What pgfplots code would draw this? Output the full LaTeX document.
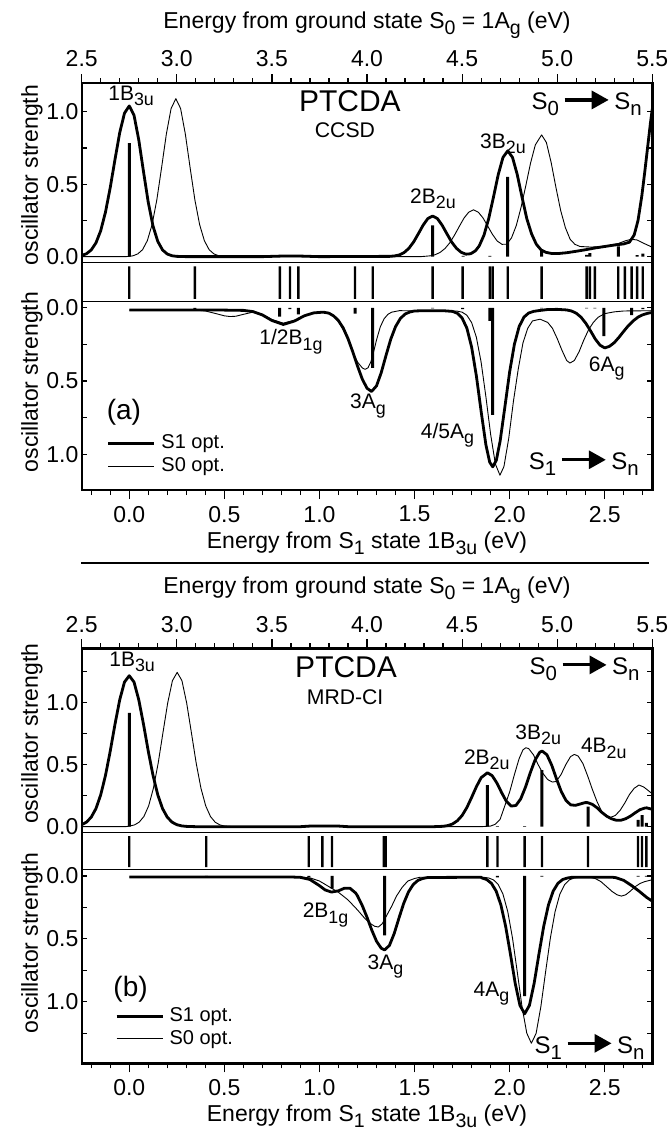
\documentclass[border=0pt]{standalone}
\usepackage{fontspec}
\setmainfont{Liberation Sans}
\usepackage{pgfplots}
\pgfplotsset{compat=1.18}
\usetikzlibrary{arrows.meta}
\newcommand\fs[1]{\fontsize{#1}{#1}\selectfont}
\newcommand\sbs[1]{\raisebox{-0.25em}{\scalebox{0.85}{#1}}}
\newcommand\arr{\raisebox{0.4pt}{\tikz\draw[line width=1.6pt,-{Triangle[length=8.5pt,width=9pt]}] (0,0)--(22pt,0);}}
\tikzset{lab/.style={font=\fs{10.5}}}
\pgfplotsset{
  pbase/.style={scale only axis, width=285.3pt, xmin=-0.25, xmax=2.75, anchor=north west,
    axis line style={line width=0.5pt}, tick style={black, line width=0.6pt},
    tick align=inside, major tick length=2.6pt, minor tick length=2.6pt,
    xtick=\empty, ticklabel style={font=\fs{11.5}}, yticklabel style={inner sep=1.5pt},
    ytick pos=both, yticklabel pos=left, ylabel style={font=\fs{11.5}},
    ytick={0,0.5,1}, yticklabels={0.0,0.5,1.0}},
  xbase/.style={scale only axis, width=285.3pt, xmin=-0.25, xmax=2.75, anchor=north west,
    ymin=0, ymax=1, axis line style={draw=none}, ytick=\empty,
    tick style={black, line width=0.6pt}, tick align=outside,
    major tick length=4.5pt, minor tick length=2.5pt,
    ticklabel style={font=\fs{11.5}}, xlabel style={font=\fs{11.5}}},
  topx/.style={xbase, xtick pos=right, xticklabel pos=right,
    xtick={-0.25,0.25,0.75,1.25,1.75,2.25,2.75},
    xticklabels={2.5,3.0,3.5,4.0,4.5,5.0,5.5},
    minor xtick={-0.15,-0.05,0.05,0.15,0.35,0.45,0.55,0.65,0.85,0.95,1.05,1.15,1.35,1.45,1.55,1.65,1.85,1.95,2.05,2.15,2.35,2.45,2.55,2.65},
    xlabel={Energy from ground state S\sbs{0} = 1A\sbs{g} (eV)},
    xlabel style={at={(axis description cs:0.5,1)}, anchor=center, yshift=29pt}},
  botx/.style={xbase, xtick pos=left, xticklabel pos=left,
    xtick={0,0.5,1,1.5,2,2.5}, xticklabels={0.0,0.5,1.0,1.5,2.0,2.5},
    minor xtick={-0.2,-0.1,0.1,0.2,0.3,0.4,0.6,0.7,0.8,0.9,1.1,1.2,1.3,1.4,1.6,1.7,1.8,1.9,2.1,2.2,2.3,2.4,2.6,2.7},
    xlabel={Energy from S\sbs{1} state 1B\sbs{3u} (eV)},
    xlabel style={at={(axis description cs:0.5,0)}, anchor=center, yshift=-26.5pt}},
  strip/.style={scale only axis, width=285.3pt, xmin=-0.25, xmax=2.75, anchor=north west,
    ymin=-0.06, ymax=1, xtick=\empty, ytick=\empty, axis line style={line width=0.5pt}},
  thickc/.style={black, line width=1.4pt, line join=round},
  thinc/.style={black, line width=0.45pt, line join=round},
  stick/.style={ybar, bar width=1.5pt, bar shift=0pt, fill=black, draw=none, forget plot},
  sstick/.style={ybar, bar width=1.2pt, bar shift=0pt, fill=black, draw=none, forget plot},
  leg/.style={legend style={draw=none, fill=none, inner sep=0pt, row sep=1.2pt,
    column sep=2pt, font=\fs{10}, nodes={inner sep=0.8pt, anchor=west}},
    legend cell align=left,
    legend image code/.code={\draw[##1] (0pt,0pt) -- (23pt,0pt);}},
}
\begin{document}
\begin{tikzpicture}
\path[use as bounding box] (0,0) rectangle (334.5pt,-565pt);
% ================= panel (a) upper =================
\begin{axis}[pbase, name=ua, at={(40.85pt,-41.5pt)}, height=89.5pt,
  ymin=-0.037, ymax=1.198, minor ytick={0.25,0.75},
  ylabel={oscillator strength}, ylabel style={at={(axis description cs:-0.0871,0.486)}, anchor=center}]
\addplot[thinc] coordinates {(-0.25,0) (-0.02,0) (0.0,0.002) (0.02,0.006) (0.045,0.019) (0.07,0.048) (0.095,0.110) (0.12,0.221) (0.145,0.392) (0.17,0.614) (0.195,0.845) (0.22,1.022) (0.245,1.09) (0.27,1.022) (0.295,0.845) (0.32,0.614) (0.345,0.392) (0.37,0.221) (0.395,0.110) (0.42,0.048) (0.445,0.019) (0.47,0.006) (0.5,0.001) (0.55,0) (1.53,0) (1.56,0.003) (1.585,0.006) (1.61,0.014) (1.635,0.030) (1.66,0.056) (1.685,0.095) (1.71,0.148) (1.735,0.208) (1.76,0.266) (1.785,0.307) (1.81,0.323) (1.835,0.307) (1.86,0.267) (1.885,0.21) (1.91,0.153) (1.935,0.107) (1.96,0.085) (1.985,0.086) (2.01,0.13) (2.035,0.215) (2.06,0.34) (2.085,0.49) (2.11,0.646) (2.135,0.771) (2.168,0.84) (2.193,0.788) (2.218,0.651) (2.243,0.48) (2.268,0.32) (2.293,0.20) (2.318,0.12) (2.343,0.085) (2.37,0.07) (2.43,0.066) (2.5,0.072) (2.57,0.09) (2.61,0.11) (2.64,0.12) (2.67,0.115) (2.7,0.095) (2.75,0.065)};
\addplot[thickc] coordinates {(-0.25,0.008) (-0.225,0.020) (-0.2,0.046) (-0.175,0.095) (-0.15,0.179) (-0.125,0.307) (-0.1,0.476) (-0.075,0.670) (-0.05,0.856) (-0.025,0.990) (0,1.04) (0.025,0.976) (0.05,0.806) (0.075,0.586) (0.1,0.374) (0.125,0.211) (0.15,0.105) (0.175,0.046) (0.2,0.018) (0.225,0.006) (0.25,0.002) (0.3,0) (0.7,0) (0.8,0.004) (0.9,0.004) (1.0,0) (1.37,0.002) (1.395,0.005) (1.42,0.012) (1.445,0.028) (1.47,0.057) (1.495,0.101) (1.52,0.158) (1.545,0.217) (1.57,0.263) (1.595,0.28) (1.62,0.263) (1.645,0.217) (1.67,0.158) (1.695,0.101) (1.72,0.058) (1.745,0.030) (1.77,0.017) (1.795,0.020) (1.82,0.040) (1.84,0.074) (1.865,0.148) (1.89,0.263) (1.915,0.411) (1.94,0.566) (1.965,0.685) (1.99,0.73) (2.015,0.685) (2.04,0.566) (2.065,0.411) (2.09,0.263) (2.115,0.158) (2.14,0.086) (2.165,0.047) (2.19,0.030) (2.22,0.022) (2.26,0.022) (2.3,0.027) (2.35,0.037) (2.4,0.048) (2.45,0.060) (2.5,0.070) (2.55,0.080) (2.6,0.088) (2.63,0.10) (2.655,0.15) (2.675,0.25) (2.695,0.42) (2.71,0.58) (2.725,0.75) (2.74,0.92) (2.75,1.02)};
\addplot[stick] coordinates {(0,0.784) (0.345,0.004) (0.79,0.004) (0.889,0.004) (1.595,0.215) (1.755,0.006) (1.896,0.006) (1.99,0.55) (2.168,0.04) (2.405,0.012) (2.422,0.025) (2.571,0.07) (2.67,0.01) (2.70,0.02)};
\node[lab] at (axis cs:0.01,1.11) {1B\sbs{3u}};
\node[font=\fs{15}] at (axis cs:1.16,1.075) {PTCDA};
\node[font=\fs{10.6}] at (axis cs:1.134,0.87) {CCSD};
\node[lab] at (axis cs:1.597,0.40) {2B\sbs{2u}};
\node[lab] at (axis cs:1.965,0.78) {3B\sbs{2u}};
\node[font=\fs{12}] at (axis cs:2.405,1.057) {S\sbs{0}\,\arr\,S\sbs{n}};
\end{axis}
\begin{axis}[topx, at={(40.85pt,-41.5pt)}, height=89.5pt]
\end{axis}
% strip (a)
\begin{axis}[strip, at={(40.85pt,-131pt)}, height=19.5pt]
\addplot[sstick] coordinates {(0,0.88) (0.345,0.88) (0.792,0.88) (0.845,0.88) (0.889,0.88) (1.187,0.88) (1.28,0.88) (1.595,0.88) (1.753,0.88) (1.896,0.88) (1.911,0.88) (1.99,0.88) (2.168,0.88) (2.405,0.88) (2.422,0.88) (2.448,0.88) (2.571,0.88) (2.606,0.88) (2.641,0.88) (2.67,0.88) (2.70,0.88)};
\end{axis}
% lower (a)
\begin{axis}[pbase, leg, name=la, at={(40.85pt,-150.5pt)}, height=94.5pt, y dir=reverse,
  ymin=-0.046, ymax=1.243, minor ytick={0.25,0.75},
  ylabel={oscillator strength}, ylabel style={at={(axis description cs:-0.0871,0.571)}, anchor=center},
  legend style={at={(axis description cs:0.0438,0.187)}, anchor=west}]
\addplot[thickc] coordinates {(0,0.016) (0.5,0.016) (0.6,0.018) (0.65,0.026) (0.7,0.049) (0.75,0.087) (0.81,0.114) (0.87,0.09) (0.92,0.055) (0.97,0.035) (1.02,0.03) (1.05,0.037) (1.075,0.056) (1.1,0.088) (1.125,0.138) (1.15,0.21) (1.175,0.30) (1.2,0.397) (1.225,0.486) (1.25,0.549) (1.274,0.571) (1.3,0.533) (1.325,0.442) (1.35,0.325) (1.375,0.214) (1.4,0.129) (1.425,0.074) (1.45,0.043) (1.475,0.029) (1.5,0.022) (1.55,0.02) (1.65,0.02) (1.7,0.025) (1.725,0.038) (1.75,0.07) (1.775,0.139) (1.8,0.268) (1.825,0.464) (1.85,0.706) (1.875,0.934) (1.895,1.053) (1.911,1.085) (1.93,1.04) (1.95,0.909) (1.975,0.676) (2.0,0.437) (2.025,0.249) (2.05,0.128) (2.075,0.064) (2.1,0.036) (2.125,0.025) (2.15,0.02) (2.2,0.012) (2.25,0.011) (2.3,0.015) (2.325,0.022) (2.35,0.037) (2.375,0.064) (2.4,0.105) (2.425,0.157) (2.45,0.213) (2.475,0.255) (2.5,0.274) (2.525,0.263) (2.55,0.238) (2.575,0.201) (2.6,0.16) (2.625,0.121) (2.65,0.089) (2.675,0.064) (2.7,0.048) (2.725,0.038) (2.75,0.032)};
\addlegendentry{S1 opt.}
\addplot[thinc] coordinates {(0,0.016) (0.35,0.016) (0.4,0.022) (0.45,0.038) (0.5,0.055) (0.53,0.06) (0.56,0.058) (0.6,0.045) (0.65,0.03) (0.7,0.045) (0.75,0.08) (0.81,0.105) (0.87,0.085) (0.92,0.055) (0.97,0.035) (1.02,0.03) (1.05,0.04) (1.075,0.06) (1.1,0.095) (1.125,0.15) (1.15,0.22) (1.175,0.30) (1.2,0.37) (1.225,0.41) (1.24,0.42) (1.255,0.41) (1.27,0.37) (1.285,0.30) (1.3,0.22) (1.32,0.13) (1.34,0.075) (1.36,0.045) (1.38,0.03) (1.42,0.02) (1.72,0.022) (1.75,0.03) (1.775,0.051) (1.8,0.101) (1.825,0.201) (1.85,0.371) (1.875,0.606) (1.9,0.863) (1.925,1.066) (1.949,1.142) (1.97,1.083) (1.995,0.892) (2.02,0.637) (2.045,0.42) (2.07,0.24) (2.095,0.14) (2.12,0.09) (2.16,0.078) (2.2,0.10) (2.225,0.14) (2.25,0.21) (2.275,0.29) (2.3,0.36) (2.317,0.377) (2.34,0.36) (2.365,0.30) (2.39,0.22) (2.415,0.15) (2.44,0.10) (2.465,0.065) (2.5,0.04) (2.55,0.028) (2.6,0.022) (2.75,0.02)};
\addlegendentry{S0 opt.}
\addplot[stick] coordinates {(0.345,0.01) (0.79,0.06) (0.845,0.01) (0.889,0.045) (1.187,0.04) (1.28,0.41) (1.595,0.005) (1.753,0.01) (1.896,0.09) (1.911,0.73) (2.168,0.005) (2.405,0.005) (2.448,0.005) (2.495,0.194) (2.641,0.05) (2.70,0.01)};
\node[lab] at (axis cs:0.85,0.232) {1/2B\sbs{1g}};
\node[lab] at (axis cs:1.255,0.67) {3A\sbs{g}};
\node[lab] at (axis cs:1.673,0.868) {4/5A\sbs{g}};
\node[lab] at (axis cs:2.51,0.413) {6A\sbs{g}};
\node[font=\fs{14}] at (axis cs:-0.028,0.714) {(a)};
\node[font=\fs{12}] at (axis cs:2.39,1.06) {S\sbs{1}\,\arr\,S\sbs{n}};
\end{axis}
\begin{axis}[botx, at={(40.85pt,-150.5pt)}, height=94.5pt]
\end{axis}
\draw[line width=1.2pt] (ua.north west) rectangle (la.south east);
\draw[line width=0.7pt] (40.5pt,-281.5pt) -- (324.25pt,-281.5pt);
% ================= panel (b) upper =================
\begin{axis}[pbase, name=ub, at={(40.85pt,-324.15pt)}, height=91.85pt,
  ymin=-0.043, ymax=1.439, minor ytick={0.25,0.75,1.25},
  ylabel={oscillator strength}, ylabel style={at={(axis description cs:-0.0871,0.535)}, anchor=center}]
\addplot[thinc] coordinates {(-0.25,0) (-0.02,0) (0.002,0.005) (0.027,0.014) (0.052,0.036) (0.077,0.082) (0.102,0.168) (0.127,0.310) (0.152,0.512) (0.177,0.756) (0.202,0.997) (0.227,1.178) (0.252,1.245) (0.277,1.178) (0.302,0.997) (0.327,0.756) (0.352,0.512) (0.377,0.31) (0.402,0.168) (0.427,0.082) (0.452,0.036) (0.477,0.014) (0.502,0.005) (0.55,0) (1.1,0) (1.13,0.008) (1.16,0) (1.85,0) (1.9,0.005) (1.925,0.02) (1.95,0.06) (1.975,0.17) (2.0,0.28) (2.025,0.42) (2.05,0.55) (2.07,0.62) (2.085,0.637) (2.1,0.63) (2.125,0.58) (2.15,0.50) (2.175,0.43) (2.2,0.38) (2.225,0.36) (2.245,0.365) (2.27,0.42) (2.295,0.50) (2.32,0.565) (2.34,0.583) (2.36,0.57) (2.385,0.51) (2.41,0.41) (2.435,0.30) (2.46,0.20) (2.485,0.12) (2.51,0.085) (2.53,0.075) (2.555,0.09) (2.58,0.13) (2.605,0.19) (2.63,0.26) (2.655,0.31) (2.68,0.336) (2.705,0.32) (2.73,0.29) (2.75,0.265)};
\addplot[thickc] coordinates {(-0.25,0.016) (-0.225,0.0365) (-0.2,0.0765) (-0.175,0.146) (-0.15,0.257) (-0.125,0.413) (-0.1,0.609) (-0.075,0.826) (-0.05,1.024) (-0.025,1.167) (0,1.218) (0.025,1.167) (0.05,1.024) (0.075,0.826) (0.1,0.609) (0.125,0.413) (0.15,0.257) (0.175,0.146) (0.2,0.0765) (0.225,0.0365) (0.25,0.016) (0.275,0.0065) (0.3,0.0024) (0.35,0) (0.9,0) (0.95,0.005) (1.1,0.005) (1.15,0) (1.6,0) (1.65,0.003) (1.675,0.009) (1.7,0.022) (1.725,0.048) (1.75,0.09) (1.775,0.154) (1.8,0.236) (1.825,0.322) (1.85,0.395) (1.883,0.435) (1.908,0.412) (1.933,0.352) (1.958,0.274) (1.983,0.204) (2.008,0.166) (2.033,0.171) (2.058,0.224) (2.083,0.318) (2.108,0.433) (2.133,0.536) (2.158,0.60) (2.171,0.61) (2.196,0.58) (2.221,0.497) (2.246,0.387) (2.271,0.285) (2.296,0.212) (2.321,0.176) (2.346,0.172) (2.371,0.183) (2.396,0.194) (2.41,0.194) (2.435,0.18) (2.46,0.152) (2.485,0.115) (2.51,0.085) (2.535,0.064) (2.56,0.052) (2.585,0.052) (2.61,0.064) (2.635,0.085) (2.66,0.112) (2.685,0.137) (2.71,0.15) (2.72,0.152) (2.75,0.14)};
\addplot[stick] coordinates {(0,0.919) (0.405,0.004) (0.944,0.004) (1.015,0.004) (1.066,0.004) (1.343,0.004) (1.883,0.336) (1.936,0.005) (2.079,0.005) (2.17,0.457) (2.412,0.161) (2.675,0.054) (2.696,0.094) (2.719,0.03)};
\node[lab] at (axis cs:0.015,1.33) {1B\sbs{3u}};
\node[font=\fs{15}] at (axis cs:1.14,1.29) {PTCDA};
\node[font=\fs{10.6}] at (axis cs:1.135,1.048) {MRD-CI};
\node[lab] at (axis cs:1.88,0.538) {2B\sbs{2u}};
\node[lab] at (axis cs:2.15,0.74) {3B\sbs{2u}};
\node[lab] at (axis cs:2.495,0.632) {4B\sbs{2u}};
\node[font=\fs{12}] at (axis cs:2.394,1.277) {S\sbs{0}\,\arr\,S\sbs{n}};
\end{axis}
\begin{axis}[topx, at={(40.85pt,-324.15pt)}, height=91.85pt]
\end{axis}
% strip (b)
\begin{axis}[strip, at={(40.85pt,-416pt)}, height=18.65pt]
\addplot[sstick] coordinates {(0,0.88) (0.405,0.88) (0.944,0.88) (1.015,0.88) (1.066,0.88) (1.338,0.88) (1.348,0.88) (1.883,0.88) (1.936,0.88) (2.079,0.88) (2.17,0.88) (2.412,0.88) (2.675,0.88) (2.696,0.88) (2.719,0.88)};
\end{axis}
% lower (b)
\begin{axis}[pbase, leg, name=lb, at={(40.85pt,-434.65pt)}, height=97pt, y dir=reverse,
  ymin=-0.053, ymax=1.49, minor ytick={0.25,0.75,1.25},
  ylabel={oscillator strength}, ylabel style={at={(axis description cs:-0.0871,0.62)}, anchor=center},
  legend style={at={(axis description cs:0.058,0.185)}, anchor=west}]
\addplot[thickc] coordinates {(0,0.008) (0.85,0.008) (0.9,0.011) (0.95,0.028) (1.0,0.077) (1.03,0.111) (1.063,0.128) (1.1,0.118) (1.13,0.098) (1.16,0.097) (1.19,0.135) (1.2,0.158) (1.225,0.235) (1.25,0.328) (1.275,0.43) (1.3,0.519) (1.325,0.575) (1.343,0.588) (1.368,0.552) (1.393,0.458) (1.418,0.335) (1.443,0.218) (1.468,0.127) (1.493,0.068) (1.518,0.035) (1.543,0.02) (1.57,0.012) (1.85,0.01) (1.854,0.016) (1.879,0.028) (1.904,0.058) (1.929,0.12) (1.954,0.23) (1.979,0.401) (2.004,0.621) (2.029,0.852) (2.054,1.029) (2.079,1.096) (2.104,1.029) (2.129,0.852) (2.154,0.621) (2.179,0.401) (2.204,0.23) (2.229,0.12) (2.254,0.058) (2.279,0.028) (2.304,0.016) (2.33,0.01) (2.54,0.01) (2.56,0.014) (2.6,0.035) (2.64,0.075) (2.68,0.12) (2.72,0.17) (2.75,0.2)};
\addlegendentry{S1 opt.}
\addplot[thinc] coordinates {(0,0.008) (0.9,0.008) (0.95,0.015) (1.0,0.04) (1.05,0.085) (1.1,0.13) (1.15,0.19) (1.2,0.27) (1.24,0.34) (1.27,0.38) (1.29,0.40) (1.31,0.406) (1.33,0.38) (1.355,0.31) (1.38,0.24) (1.405,0.16) (1.435,0.09) (1.465,0.04) (1.5,0.02) (1.53,0.01) (1.86,0.01) (1.89,0.016) (1.915,0.031) (1.94,0.068) (1.965,0.145) (1.99,0.283) (2.015,0.494) (2.04,0.763) (2.065,1.04) (2.09,1.25) (2.114,1.33) (2.139,1.253) (2.164,1.04) (2.189,0.763) (2.214,0.494) (2.239,0.283) (2.264,0.145) (2.289,0.068) (2.314,0.031) (2.339,0.016) (2.37,0.01) (2.42,0.01) (2.45,0.02) (2.48,0.045) (2.51,0.085) (2.54,0.125) (2.565,0.15) (2.587,0.16) (2.61,0.15) (2.635,0.12) (2.66,0.085) (2.685,0.06) (2.71,0.045) (2.75,0.03)};
\addlegendentry{S0 opt.}
\addplot[stick] coordinates {(0.405,0.008) (0.944,0.01) (1.066,0.10) (1.343,0.473) (1.936,0.012) (2.079,0.955) (2.17,0.005) (2.675,0.005) (2.719,0.005)};
\node[lab] at (axis cs:1.032,0.31) {2B\sbs{1g}};
\node[lab] at (axis cs:1.347,0.72) {3A\sbs{g}};
\node[lab] at (axis cs:1.904,0.933) {4A\sbs{g}};
\node[font=\fs{14}] at (axis cs:0.007,0.90) {(b)};
\node[font=\fs{12}] at (axis cs:2.42,1.358) {S\sbs{1}\,\arr\,S\sbs{n}};
\end{axis}
\begin{axis}[botx, at={(40.85pt,-434.65pt)}, height=97pt]
\end{axis}
\draw[line width=1.2pt] (ub.north west) rectangle (lb.south east);
\end{tikzpicture}
\end{document}
